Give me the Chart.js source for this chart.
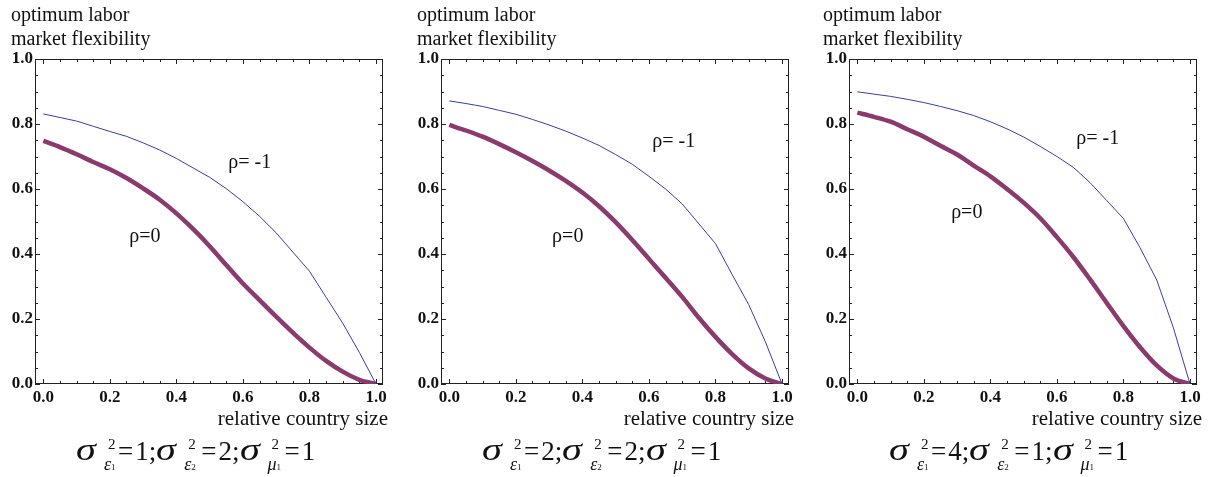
<!DOCTYPE html>
<html>
<head>
<meta charset="utf-8">
<script src="https://cdn.jsdelivr.net/npm/chart.js@4.4.1/dist/chart.umd.min.js"></script>
<style>
body { margin: 0; background: #fff; width: 1216px; height: 477px; position: relative; overflow: hidden; font-family: "Liberation Serif", "Times New Roman", serif; color: #111; }
.panel { position: absolute; top: 0; height: 477px; }
.panel canvas { position: absolute; left: 0; top: 0; }
.ylab { position: absolute; left: 11px; top: 2px; font-size: 20px; line-height: 24px; white-space: nowrap; }
.xlab { position: absolute; right: 19px; top: 406px; font-size: 21px; line-height: 24px; white-space: nowrap; }
.formula { position: absolute; left: 76px; top: 433px; font-size: 27px; line-height: 30px; white-space: nowrap; }
.formula i.s { display: inline-block; width: 22px; font-size: 31px; transform: scaleX(1.3); transform-origin: 0 0; }
.formula .eq { margin: 0 2px 0 0; }
.st { display: inline-block; position: relative; width: 20px; height: 27px; }
.st.w { width: 23px; }
.st .sp { position: absolute; left: 10px; top: 3px; font-size: 15px; line-height: 16px; }
.st .sb { position: absolute; left: 6px; top: 23px; font-size: 18px; line-height: 16px; font-style: italic; }
.st .sb small { font-size: 9px; font-style: normal; }
</style>
</head>
<body>
<div class="panel" style="left:0;width:407px">
  <canvas id="c1" width="407" height="477"></canvas>
  <div class="ylab">optimum labor<br>market flexibility</div>
  <div class="xlab">relative country size</div>
  <div class="formula"><i class="s">σ</i><span class="st"><span class="sp">2</span><span class="sb">ε<small>1</small></span></span><span class="eq">=</span>1;<i class="s">σ</i><span class="st w"><span class="sp">2</span><span class="sb">ε<small>2</small></span></span><span class="eq">=</span>2;<i class="s">σ</i><span class="st w"><span class="sp">2</span><span class="sb">μ<small>1</small></span></span><span class="eq">=</span>1</div>
</div>
<div class="panel" style="left:406px;width:407px">
  <canvas id="c2" width="407" height="477"></canvas>
  <div class="ylab">optimum labor<br>market flexibility</div>
  <div class="xlab">relative country size</div>
  <div class="formula"><i class="s">σ</i><span class="st"><span class="sp">2</span><span class="sb">ε<small>1</small></span></span><span class="eq">=</span>2;<i class="s">σ</i><span class="st w"><span class="sp">2</span><span class="sb">ε<small>2</small></span></span><span class="eq">=</span>2;<i class="s">σ</i><span class="st w"><span class="sp">2</span><span class="sb">μ<small>1</small></span></span><span class="eq">=</span>1</div>
</div>
<div class="panel" style="left:814px;width:402px">
  <canvas id="c3" width="402" height="477"></canvas>
  <div class="ylab" style="left:9px">optimum labor<br>market flexibility</div>
  <div class="xlab" style="right:14px">relative country size</div>
  <div class="formula" style="left:75px"><i class="s">σ</i><span class="st"><span class="sp">2</span><span class="sb">ε<small>1</small></span></span><span class="eq">=</span>4;<i class="s">σ</i><span class="st w"><span class="sp">2</span><span class="sb">ε<small>2</small></span></span><span class="eq">=</span>1;<i class="s">σ</i><span class="st w"><span class="sp">2</span><span class="sb">μ<small>1</small></span></span><span class="eq">=</span>1</div>
</div>

<script>
// relative country size (x) shared by every curve
const sizes = [0, 0.05, 0.1, 0.15, 0.2, 0.25, 0.3, 0.35, 0.4, 0.45, 0.5,
               0.55, 0.6, 0.65, 0.7, 0.75, 0.8, 0.85, 0.9, 0.95, 1.0];

// panel 1: s_e1=1, s_e2=2, s_mu1=1
const flexZero1  = [0.748, 0.729, 0.707, 0.683, 0.661, 0.634, 0.602, 0.567, 0.525, 0.477, 0.424,
                    0.366, 0.309, 0.258, 0.207, 0.158, 0.112, 0.071, 0.038, 0.013, 0.0];
const flexMinus1 = [0.831, 0.820, 0.809, 0.793, 0.777, 0.762, 0.742, 0.720, 0.694, 0.665, 0.636,
                    0.601, 0.561, 0.516, 0.465, 0.406, 0.347, 0.267, 0.187, 0.097, 0.0];
// panel 2: s_e1=2, s_e2=2, s_mu1=1
const flexZero2  = [0.797, 0.780, 0.761, 0.738, 0.713, 0.686, 0.657, 0.625, 0.589, 0.547, 0.498,
                    0.443, 0.385, 0.327, 0.268, 0.204, 0.145, 0.092, 0.048, 0.017, 0.0];
const flexMinus2 = [0.871, 0.863, 0.854, 0.842, 0.830, 0.814, 0.797, 0.778, 0.757, 0.734, 0.706,
                    0.676, 0.639, 0.600, 0.554, 0.493, 0.432, 0.337, 0.244, 0.130, 0.0];
// panel 3: s_e1=4, s_e2=1, s_mu1=1
const flexZero3  = [0.835, 0.822, 0.807, 0.784, 0.761, 0.733, 0.706, 0.672, 0.639, 0.600, 0.558,
                    0.510, 0.452, 0.390, 0.321, 0.249, 0.178, 0.113, 0.057, 0.017, 0.0];
const flexMinus3 = [0.899, 0.892, 0.885, 0.876, 0.866, 0.854, 0.841, 0.826, 0.807, 0.785, 0.760,
                    0.731, 0.700, 0.666, 0.619, 0.564, 0.509, 0.419, 0.320, 0.173, 0.0];

const tickValues = [0, 0.2, 0.4, 0.6, 0.8, 1.0];

const serif = '"Liberation Serif", "Times New Roman", serif';

// frame with inward major/minor ticks on all four sides
const framePlugin = {
    id: 'frame',
    beforeDatasetsDraw(chart) {
        const { ctx, chartArea: a, scales: { x, y } } = chart;
        ctx.save();
        ctx.strokeStyle = '#222';
        ctx.lineWidth = 1;
        ctx.strokeRect(a.left + 0.5, a.top + 0.5, a.right - a.left - 1, a.bottom - a.top - 1);
        ctx.beginPath();
        for (let i = 0; i <= 20; i++) {
            const v = i / 20;
            const len = i % 4 === 0 ? 5 : 3;
            const px = Math.round(x.getPixelForValue(v)) + 0.5;
            ctx.moveTo(px, a.bottom); ctx.lineTo(px, a.bottom - len);
            ctx.moveTo(px, a.top); ctx.lineTo(px, a.top + len);
            const py = Math.round(y.getPixelForValue(v)) + 0.5;
            ctx.moveTo(a.left, py); ctx.lineTo(a.left + len, py);
            ctx.moveTo(a.right, py); ctx.lineTo(a.right - len, py);
        }
        ctx.stroke();
        ctx.restore();
    }
};

// the rho labels inside the plot
const curveLabels = {
    id: 'curveLabels',
    afterDatasetsDraw(chart, args, opts) {
        const { ctx, scales: { x, y } } = chart;
        ctx.save();
        ctx.font = '20px ' + serif;
        ctx.fillStyle = '#111';
        ctx.textBaseline = 'alphabetic';
        ctx.textAlign = 'left';
        opts.items.forEach(it => ctx.fillText(it.text, x.getPixelForValue(it.x), y.getPixelForValue(it.y)));
        ctx.restore();
    }
};

function drawPanel(id, zero, minus, labels) {
    const canvas = document.getElementById(id);
    const tickFont = { family: serif, size: 17, weight: 'bold' };
    new Chart(canvas, {
        type: 'line',
        data: {
            datasets: [
                {
                    label: 'ρ= -1',
                    data: sizes.map((s, i) => ({ x: s, y: minus[i] })),
                    borderColor: '#3a3ab2',
                    borderWidth: 1,
                    pointRadius: 0,
                    tension: 0
                },
                {
                    label: 'ρ=0',
                    data: sizes.map((s, i) => ({ x: s, y: zero[i] })),
                    borderColor: '#8b3a6e',
                    borderWidth: 4.5,
                    pointRadius: 0,
                    cubicInterpolationMode: 'monotone'
                }
            ]
        },
        options: {
            responsive: false,
            devicePixelRatio: 1,
            animation: false,
            events: [],
            layout: { padding: { top: 59, right: canvas.width - 383, bottom: 0, left: 0 } },
            scales: {
                x: {
                    type: 'linear',
                    min: -0.025,
                    max: 1.021,
                    grid: { display: false, drawTicks: false },
                    border: { display: false },
                    afterBuildTicks: s => { s.ticks = tickValues.map(v => ({ value: v })); },
                    afterFit: s => { s.height = 93; },
                    ticks: { font: tickFont, color: '#111', padding: 3, maxRotation: 0, callback: v => v.toFixed(1) }
                },
                y: {
                    min: 0,
                    max: 1,
                    grid: { display: false, drawTicks: false },
                    border: { display: false },
                    afterBuildTicks: s => { s.ticks = tickValues.map(v => ({ value: v })); },
                    afterFit: s => { s.width = 35; },
                    ticks: { font: tickFont, color: '#111', padding: 2, callback: v => v.toFixed(1) }
                }
            },
            plugins: {
                legend: { display: false },
                tooltip: { enabled: false },
                curveLabels: { items: labels }
            }
        },
        plugins: [framePlugin, curveLabels]
    });
}

drawPanel('c1', flexZero1, flexMinus1, [
    { text: 'ρ= -1', x: 0.556, y: 0.665 },
    { text: 'ρ=0', x: 0.258, y: 0.437 }
]);
drawPanel('c2', flexZero2, flexMinus2, [
    { text: 'ρ= -1', x: 0.61, y: 0.729 },
    { text: 'ρ=0', x: 0.309, y: 0.437 }
]);
drawPanel('c3', flexZero3, flexMinus3, [
    { text: 'ρ= -1', x: 0.658, y: 0.738 },
    { text: 'ρ=0', x: 0.282, y: 0.511 }
]);
</script>
</body>
</html>
